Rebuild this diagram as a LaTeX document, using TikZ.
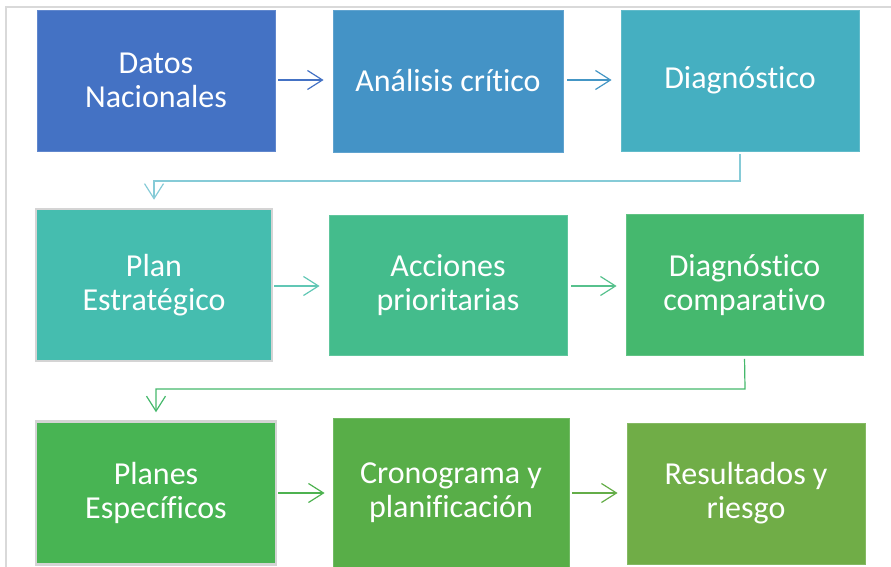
\documentclass[tikz,border=0pt]{standalone}
\usepackage{fontspec}
\setmainfont{Carlito}[Ligatures={NoCommon}]
\usetikzlibrary{arrows.meta}
\definecolor{cA}{HTML}{4472C4}
\definecolor{cB}{HTML}{4493C6}
\definecolor{cC}{HTML}{45AFC1}
\definecolor{cD}{HTML}{45BDAF}
\definecolor{cE}{HTML}{44BC8C}
\definecolor{cF}{HTML}{45B86E}
\definecolor{cG}{HTML}{48B453}
\definecolor{cH}{HTML}{58AE48}
\definecolor{cI}{HTML}{70AD47}
\definecolor{frame}{HTML}{D9D9D9}
\definecolor{bord}{HTML}{D4D4D4}
\tikzset{
  box/.style={rectangle, inner sep=0pt, align=center, text=white,
    font=\fontsize{32}{34}\selectfont, line width=0.8pt},
  grayed/.style={draw=bord, line width=2.5pt},
  flow/.style={line width=1.2pt, -{Straight Barb[length=15pt,width=19pt,line width=1.2pt]}},
}
\begin{document}
\begin{tikzpicture}[x=1pt,y=-1pt]
\useasboundingbox (0,0) rectangle (891,567);
\draw[frame, line width=1.5pt] (6,567) -- (6,7) -- (891,7);
% row 1
\node[box, fill=cA, draw=cA!85!white, minimum width=238pt, minimum height=141pt] (n1) at (156,80.5) {Datos\\Nacionales};
\node[box, fill=cB, draw=cB!85!white, minimum width=230pt, minimum height=142pt] (n2) at (448,81) {Análisis crítico};
\node[box, fill=cC, draw=cC!85!white, minimum width=238pt, minimum height=141pt] (n3) at (740,80.5) {Diagnóstico};
% row 2
\node[box, fill=cD, grayed, minimum width=236pt, minimum height=152pt] (n4) at (154,285) {Plan\\Estratégico};
\node[box, fill=cE, draw=cE!85!white, minimum width=238pt, minimum height=140pt] (n5) at (448,285) {Acciones\\prioritarias};
\node[box, fill=cF, draw=cF!85!white, minimum width=237pt, minimum height=141pt] (n6) at (744.5,285) {Diagnóstico\\comparativo};
% row 3
\node[box, fill=cG, grayed, minimum width=240pt, minimum height=143pt] (n7) at (156,493) {Planes\\Específicos};
\node[box, fill=cH, draw=cH!85!white, minimum width=236pt, minimum height=150pt] (n8) at (451,493) {Cronograma y\\planificación};
\node[box, fill=cI, draw=cI!85!white, minimum width=238pt, minimum height=141pt] (n9) at (746,493.5) {Resultados y\\riesgo};
% connectors
\coordinate (k1) at (740,181);
\coordinate (k2) at (745,389);
\draw[flow, draw=cA, shorten <=3pt, shorten >=9pt] (n1.east |- 0,80) -- (n2.west |- 0,80);
\draw[flow, draw=cB!90!cC, shorten <=4pt, shorten >=9pt] (n2.east |- 0,80) -- (n3.west |- 0,80);
\draw[line width=1.2pt, draw=cC!65!white, shorten <=3pt, -{Straight Barb[length=15pt,width=19pt,line width=1.2pt]}, shorten >=8pt] (n3.south) -- (k1) -| (n4.north);
\draw[flow, draw=cD!80!cE!85!white, shorten <=1pt, shorten >=9pt] (n4.east |- 0,286) -- (n5.west |- 0,286);
\draw[flow, draw=cE!60!cF!90!white, shorten <=4pt, shorten >=9pt] (n5.east |- 0,286) -- (n6.west |- 0,286);
\draw[line width=1.2pt, draw=cF!90!cG, shorten <=3pt, -{Straight Barb[length=15pt,width=19pt,line width=1.2pt]}, shorten >=8pt] (n6.south) -- (k2) -| (n7.north);
\draw[flow, draw=cG!70!cH, shorten <=1pt, shorten >=8pt] (n7.east |- 0,493) -- (n8.west |- 0,493);
\draw[flow, draw=cH!50!cI, shorten <=3pt, shorten >=9pt] (n8.east |- 0,493) -- (n9.west |- 0,493);
\end{tikzpicture}
\end{document}
